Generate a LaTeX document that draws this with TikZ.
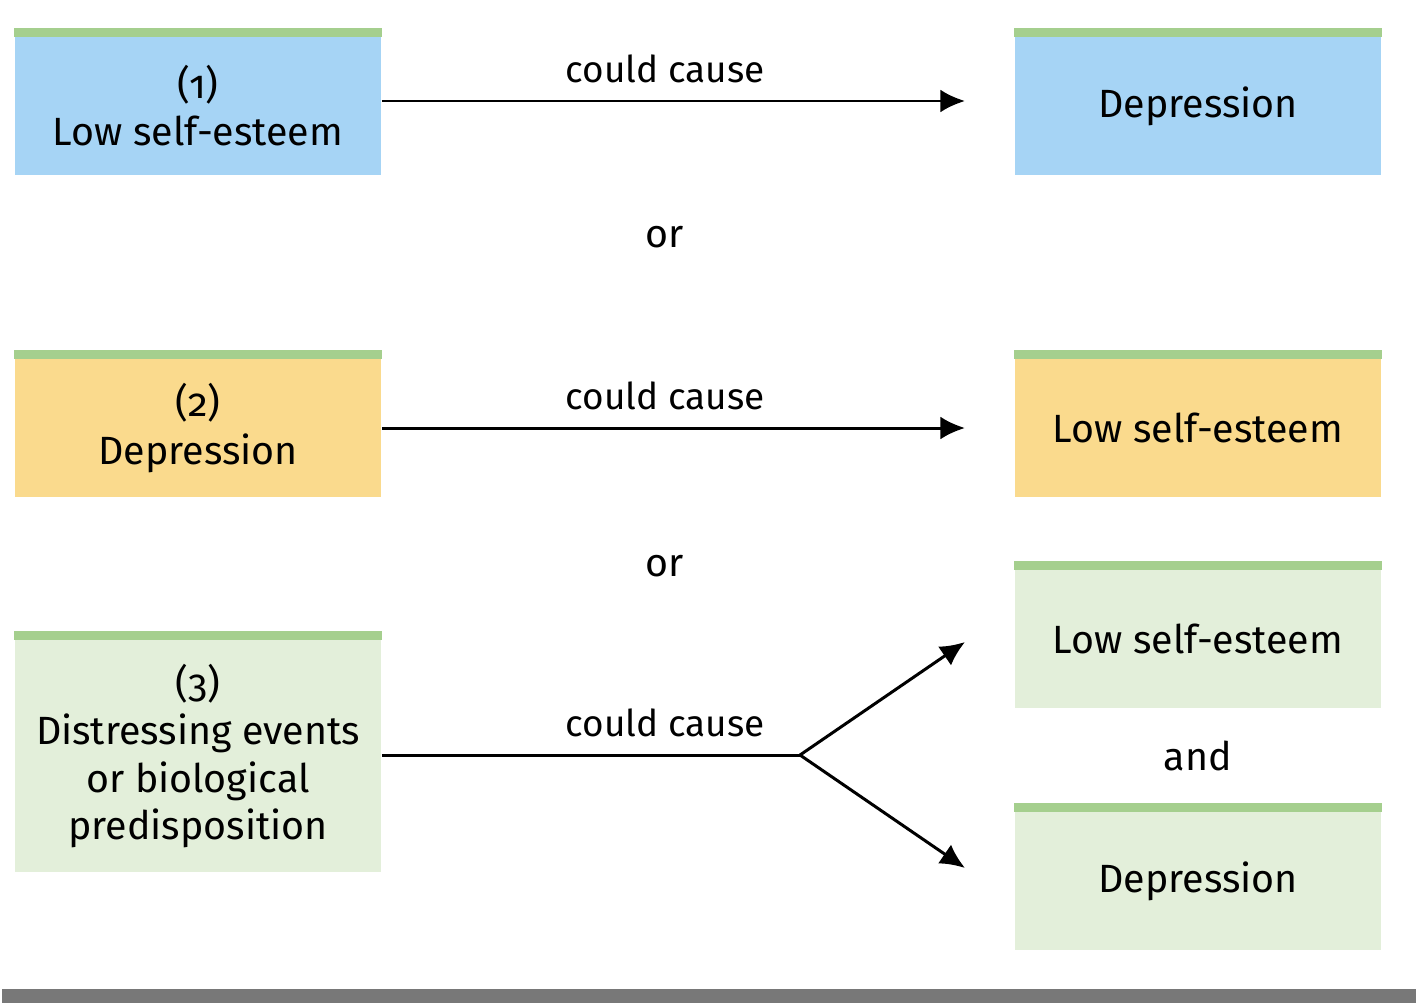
\documentclass[tikz,border=0pt]{standalone}
\usepackage{fontspec}
\setmainfont{Fira Sans}[Numbers=OldStyle]
\usepackage{tikz}
\usetikzlibrary{arrows.meta}

\definecolor{boxblue}{RGB}{166,212,245}
\definecolor{boxyellow}{RGB}{250,218,141}
\definecolor{boxgreen}{RGB}{227,239,218}
\definecolor{stripegreen}{RGB}{165,207,142}
\definecolor{bargray}{RGB}{120,120,120}

\tikzset{
    causebox/.style={fill=#1, minimum width=3.66cm, minimum height=1.37cm,
        inner sep=0pt, align=center, font=\fontsize{11.2}{13.4}\selectfont},
    tallbox/.style={causebox=#1, minimum height=2.31cm},
    linklabel/.style={font=\fontsize{10.5}{12.5}\selectfont},
    arr/.style={line width=0.85pt, -{Latex[length=7pt,width=6.5pt]}},
    link/.style={line width=0.85pt}
}

\begin{document}
\begin{tikzpicture}[x=0.01cm, y=-0.01cm]
    \useasboundingbox (0,0) rectangle (1416,1003);

    % Row 1
    \node[causebox=boxblue] (esteemA) at (198,106) {(1)\\Low self-esteem};
    \node[causebox=boxblue] (depA) at (1198,106) {Depression};
    \coordinate (tipA) at (965,101);
    \draw[arr] (esteemA.east |- tipA) -- (tipA);
    \node[linklabel] (causeA) at (665,69) {could cause};

    \node[linklabel, font=\fontsize{11.2}{13.4}\selectfont] (orA) at (665,237) {or};

    % Row 2
    \node[causebox=boxyellow] (depB) at (198,428) {(2)\\Depression};
    \node[causebox=boxyellow] (esteemB) at (1198,428) {Low self-esteem};
    \coordinate (tipB) at (965,428);
    \draw[arr] (depB.east |- tipB) -- (tipB);
    \node[linklabel] (causeB) at (665,396) {could cause};

    \node[linklabel, font=\fontsize{11.2}{13.4}\selectfont] (orB) at (665,566) {or};

    % Row 3
    \node[tallbox=boxgreen] (events) at (198,756) {(3)\\Distressing events\\or biological\\predisposition};
    \node[causebox=boxgreen] (esteemC) at (1198,639) {Low self-esteem};
    \node[linklabel, font=\fontsize{11.2}{13.4}\selectfont] (andC) at (1198,756) {and};
    \node[causebox=boxgreen] (depC) at (1198,881) {Depression};
    \coordinate (fork) at (800,755);
    \coordinate (tipUp) at (965,642);
    \coordinate (tipDown) at (965,868);
    \draw[link] (events.east |- fork) -- (fork);
    \draw[arr] (fork) -- (tipUp);
    \draw[arr] (fork) -- (tipDown);
    \node[linklabel] (causeC) at (665,723) {could cause};

    % green stripes on top of the boxes
    \foreach \b in {esteemA,depA,depB,esteemB,events,esteemC,depC}
        \fill[stripegreen] (\b.north west) rectangle ([yshift=0.09cm]\b.north east);

    % bottom bar
    \fill[bargray] (2,989) rectangle (1416,1003);
\end{tikzpicture}
\end{document}
